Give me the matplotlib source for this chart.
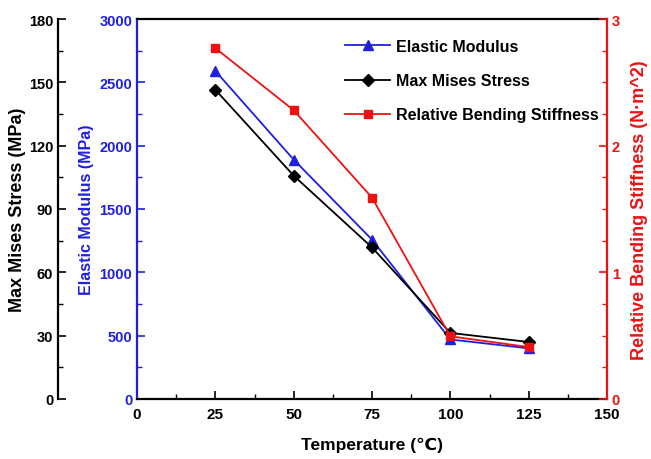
import matplotlib
matplotlib.use("Agg")
import matplotlib.pyplot as plt
from matplotlib.ticker import MultipleLocator

plt.rcParams['font.family'] = ['Liberation Sans', 'DejaVu Sans']
plt.rcParams['font.weight'] = 'bold'

temperature = [25, 50, 75, 100, 125]
elastic_modulus = [2590, 1890, 1258, 470, 400]
max_mises_stress = [146.5, 105.8, 71.8, 31.3, 27.0]
bending_stiffness = [2.77, 2.28, 1.59, 0.495, 0.41]

BLUE = '#1f1fe0'
RED = '#ee1111'

fig = plt.figure(figsize=(6.51, 4.60), dpi=100)
ax = fig.add_axes([137/651, 60/460, 470/651, 380/460])
ax_s = ax.twinx()
ax_r = ax.twinx()

# Elastic modulus (blue, inner left)
l1, = ax.plot(temperature, elastic_modulus, color=BLUE, marker='^', ms=7, lw=1.3, label='Elastic Modulus', zorder=3)
ax.set_xlim(0, 150)
ax.set_ylim(0, 3000)
ax.xaxis.set_major_locator(MultipleLocator(25))
ax.xaxis.set_minor_locator(MultipleLocator(12.5))
ax.yaxis.set_major_locator(MultipleLocator(500))
ax.yaxis.set_minor_locator(MultipleLocator(250))
ax.tick_params(axis='y', which='both', direction='in', colors=BLUE, labelsize=10.5)
ax.tick_params(axis='x', which='both', direction='in', colors='black', labelsize=11, pad=6)
ax.tick_params(which='major', length=6, width=1.2)
ax.tick_params(which='minor', length=3.5, width=1.0)
ax.set_ylabel('Elastic Modulus (MPa)', color=BLUE, fontsize=11.5, fontweight='bold', labelpad=4)
ax.set_xlabel('Temperature (℃)', fontsize=12.5, fontweight='bold', labelpad=11)
ax.spines['left'].set_color(BLUE)
ax.spines['left'].set_linewidth(1.6)
ax.spines['bottom'].set_linewidth(1.6)
ax.spines['top'].set_linewidth(1.6)
ax.spines['right'].set_visible(False)

# Max Mises stress (black, outer left)
l2, = ax_s.plot(temperature, max_mises_stress, color='black', marker='D', ms=6, lw=1.3, label='Max Mises Stress', zorder=3)
ax_s.set_ylim(0, 180)
ax_s.yaxis.set_major_locator(MultipleLocator(30))
ax_s.yaxis.set_minor_locator(MultipleLocator(15))
ax_s.yaxis.set_ticks_position('left')
ax_s.yaxis.set_label_position('left')
ax_s.spines['left'].set_position(('outward', 79 * 72 / 100))
ax_s.spines['left'].set_visible(True)
ax_s.spines['left'].set_linewidth(1.6)
ax_s.spines['left'].set_color('black')
for s in ['right', 'top', 'bottom']:
    ax_s.spines[s].set_visible(False)
ax_s.tick_params(axis='y', which='both', direction='in', colors='black', labelsize=10.5)
ax_s.tick_params(which='major', length=6, width=1.2)
ax_s.tick_params(which='minor', length=3.5, width=1.0)
ax_s.set_ylabel('Max Mises Stress (MPa)', color='black', fontsize=13, fontweight='bold', labelpad=2)

# Relative bending stiffness (red, right)
l3, = ax_r.plot(temperature, bending_stiffness, color=RED, marker='s', ms=6, lw=1.3, label='Relative Bending Stiffness', zorder=3)
ax_r.set_ylim(0, 3)
ax_r.yaxis.set_major_locator(MultipleLocator(1))
ax_r.yaxis.set_minor_locator(MultipleLocator(0.25))
ax_r.tick_params(axis='y', which='both', direction='in', colors=RED, labelsize=10.5)
ax_r.tick_params(which='major', length=6, width=1.2)
ax_r.tick_params(which='minor', length=3.5, width=1.0)
ax_r.spines['right'].set_color(RED)
ax_r.spines['right'].set_linewidth(1.6)
for s in ['left', 'top', 'bottom']:
    ax_r.spines[s].set_visible(False)
ax_r.set_ylabel('Relative Bending Stiffness (N·m^2)', color=RED, fontsize=13, fontweight='bold', labelpad=8)

leg = ax_r.legend(handles=[l1, l2, l3], loc='upper right', bbox_to_anchor=(1.012, 0.985),
                  frameon=False, handlelength=2.8, handletextpad=0.35,
                  labelspacing=1.2, prop={'weight': 'bold', 'size': 11.5})

fig.savefig('out.png', dpi=100)
